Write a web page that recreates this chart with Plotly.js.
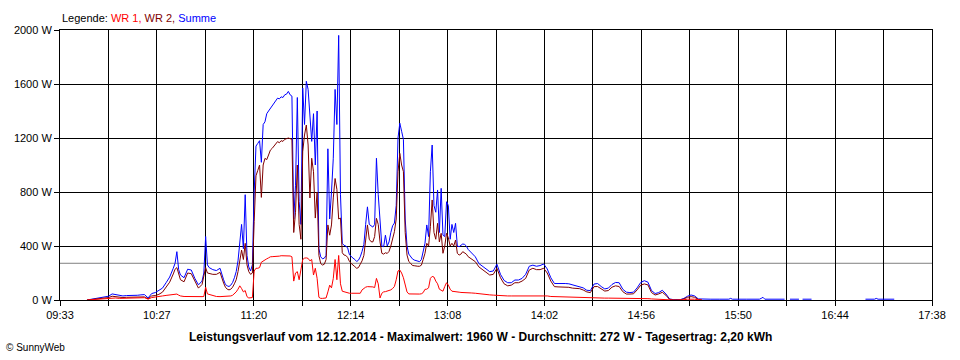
<!DOCTYPE html>
<html>
<head>
<meta charset="utf-8">
<script src="https://cdn.plot.ly/plotly-3.0.1.min.js"></script>
<style>html,body{margin:0;padding:0;background:#fff;}#chart{width:960px;height:360px;}</style>
</head>
<body>
<div id="chart"></div>
<script>
// ---- data ----
const day = '2014-12-12';
const times = [
'09:48','09:50','09:52','09:54','09:56','09:58','10:00','10:02','10:04','10:06','10:08','10:10','10:12','10:14','10:16','10:18','10:20','10:22','10:24','10:26','10:28','10:30','10:32','10:34','10:36','10:37','10:38','10:39','10:40','10:42','10:44','10:46','10:48','10:50','10:52','10:53','10:54','10:55','10:56','10:58','11:00','11:02','11:04',
'11:05','11:06','11:07','11:08','11:09','11:10','11:11','11:12','11:13','11:14','11:15','11:16','11:17','11:18','11:19','11:20','11:21','11:22','11:23','11:24','11:25','11:26','11:27','11:28','11:29','11:30','11:31','11:32','11:33','11:34','11:35','11:36','11:37','11:38','11:39','11:40','11:41','11:42','11:43','11:44','11:45','11:46','11:47','11:48','11:49','11:50','11:51','11:52','11:53','11:54','11:55','11:56','11:57','11:58','11:59','12:00','12:01','12:02','12:03','12:04','12:05','12:06','12:07','12:08','12:09','12:10','12:11','12:12','12:13','12:14','12:15','12:16','12:17','12:18','12:19','12:20','12:21','12:22','12:23','12:24','12:25','12:26','12:27','12:28','12:29','12:30','12:31','12:32','12:33','12:34','12:35','12:36','12:37','12:38','12:39','12:40','12:41','12:42','12:43','12:44','12:45','12:46','12:47','12:48','12:49','12:50','12:51','12:52','12:53','12:54','12:55','12:56','12:57','12:58','12:59','13:00','13:01','13:02','13:03','13:04','13:05','13:06','13:07','13:08','13:09','13:10','13:11','13:12','13:13','13:14','13:15','13:16','13:17','13:18','13:19','13:20',
'13:22','13:24','13:26','13:28','13:30','13:32','13:34','13:36','13:38','13:40','13:42','13:44','13:46','13:48','13:50','13:52','13:54','13:56','13:58','14:00','14:02','14:04','14:06','14:08','14:10','14:12','14:14','14:16','14:18','14:20','14:22','14:24','14:26','14:28','14:30','14:32','14:34','14:36','14:38','14:40','14:42','14:44','14:46','14:48','14:50','14:52','14:54','14:56','14:58','15:00','15:02','15:04','15:06','15:08','15:10','15:12','15:14','15:16','15:18','15:20','15:22','15:24','15:26','15:28','15:30',
'15:35','15:40','15:45','15:46','15:47','15:55','16:02','16:03','16:04','16:05','16:10','16:16','16:17','16:19','16:24','16:25','16:26','16:31','16:32','17:01','17:06','17:07','17:08','17:17'
];
const summe = [
0,5,8,12,18,22,28,45,40,32,30,33,32,34,35,38,40,15,48,55,70,88,128,170,235,272,358,225,185,165,228,222,160,112,140,200,470,260,240,225,218,235,150,
115,105,100,110,130,165,210,290,420,560,380,780,330,245,215,260,800,1140,1160,1180,1020,1300,1320,1380,1400,1420,1440,1455,1475,1495,1490,1505,1500,1520,1525,1545,1520,1510,600,850,1500,730,560,1570,1300,1620,1560,1330,1175,1380,1000,1400,380,320,305,310,330,1120,600,800,1050,1560,1300,1960,780,420,405,400,385,335,320,310,300,285,295,320,360,410,560,690,560,550,540,560,1050,780,560,400,395,480,400,430,500,550,570,700,1200,1310,1250,1190,600,400,340,321,305,296,290,285,284,300,360,420,556,470,950,1148,700,650,815,500,827,480,470,728,700,450,560,500,568,400,395,405,415,412,400,375,
345,320,270,250,230,210,215,265,190,145,128,128,148,148,160,190,250,258,250,255,267,230,165,122,122,124,122,120,112,105,100,90,72,70,118,122,100,82,88,115,130,128,80,58,55,58,90,130,143,132,70,48,55,72,45,8,3,3,3,12,28,37,30,8,6,
6,6,6,12,6,6,6,12,20,6,6,6,null,6,6,null,6,6,null,6,6,12,6,6
];
const wr1 = [
0,2,3,4,6,8,10,14,15,12,12,13,12,14,15,16,17,6,18,22,28,30,34,38,42,44,44,36,30,26,25,25,24,24,25,26,95,45,40,30,26,25,25,
26,28,28,30,35,45,60,80,105,85,60,70,25,15,15,18,215,235,235,240,280,290,296,305,312,320,321,321,322,324,325,328,328,328,328,328,326,320,140,200,210,150,230,300,310,312,308,290,300,185,235,160,20,12,12,12,15,60,110,90,160,300,150,330,120,65,60,55,50,50,50,50,50,48,48,50,75,88,95,99,99,99,97,92,160,120,15,50,60,62,65,68,75,85,100,150,215,222,200,165,120,60,45,44,44,44,44,44,44,46,55,79,80,90,160,175,170,140,120,80,75,65,100,128,110,80,65,62,60,60,58,56,56,55,54,54,
52,50,46,44,42,38,36,34,30,30,30,30,30,30,30,32,33,33,33,32,32,30,26,25,24,22,22,20,18,18,17,16,15,15,15,15,14,14,14,14,14,13,12,12,12,12,12,12,11,10,8,6,6,6,5,2,0,0,0,2,6,8,6,2,0,
null,null,null,null,null,null,null,null,null,null,null,null,null,null,null,null,null,null,null,null,null,null,null,null
];
const wr2 = [
0,3,5,8,12,14,18,28,25,20,18,20,20,20,20,22,23,9,30,33,42,58,94,132,193,228,240,189,150,135,200,195,136,88,115,170,240,200,195,190,190,205,125,
95,80,75,80,95,120,150,210,310,370,300,420,260,210,190,200,580,920,960,1000,760,1000,1049,1040,1074,1110,1123,1140,1150,1173,1165,1180,1175,1190,1195,1200,1195,1190,500,650,1000,560,450,1100,1222,1296,1148,756,1050,950,607,800,330,270,259,265,300,556,480,556,756,900,820,600,607,350,333,330,315,285,270,255,247,235,240,265,290,330,450,556,450,432,430,470,605,560,430,346,340,350,345,360,400,450,506,600,950,1086,1000,951,500,333,285,272,256,254,250,250,250,258,300,346,420,400,543,741,500,450,568,430,494,346,400,494,460,400,420,400,444,346,333,340,358,350,340,321,
300,284,245,225,205,185,190,235,165,120,105,110,128,128,140,160,222,235,225,225,235,200,140,99,97,97,96,94,88,86,84,74,60,55,99,100,85,66,70,95,105,100,62,44,44,46,75,110,119,112,55,37,45,57,35,5,0,0,0,8,20,25,20,5,0,
null,null,null,null,null,null,null,null,null,null,null,null,null,null,null,null,null,null,null,null,null,null,null,null
];
const avgPower = 272;
const yTickVals = [0, 400, 800, 1200, 1600, 2000];
const yTickLabels = ['0 W', '400 W', '800 W', '1200 W', '1600 W', '2000 W'];
const xTickLabels = ['09:33','10:27','11:20','12:14','13:08','14:02','14:56','15:50','16:44','17:38'];
const xStart = '09:33', xEnd = '17:38';
const titleText = 'Leistungsverlauf vom 12.12.2014 - Maximalwert: 1960 W - Durchschnitt: 272 W - Tagesertrag: 2,20 kWh';

// ---- build ----
const x = times.map(t => day + ' ' + t + ':00');
const toMs = t => Date.parse(day + 'T' + t + ':00Z');
const t0 = toMs(xStart), t1 = toMs(xEnd);
const nInt = (xTickLabels.length - 1) * 2;
const tickvals = [], ticktext = [];
for (let i = 0; i <= nInt; i++) {
  tickvals.push(t0 + (t1 - t0) * i / nInt);
  ticktext.push(i % 2 === 0 ? xTickLabels[i / 2] : '');
}
const FONT = 'Liberation Sans, Arial, sans-serif';

const traces = [
  {x: x, y: summe, name: 'Summe', type: 'scatter', mode: 'lines', line: {color: '#0000ff', width: 1}, connectgaps: false},
  {x: x, y: wr2, name: 'WR 2', type: 'scatter', mode: 'lines', line: {color: '#800000', width: 1}, connectgaps: false},
  {x: x, y: wr1, name: 'WR 1', type: 'scatter', mode: 'lines', line: {color: '#ff0000', width: 1}, connectgaps: false}
];

const layout = {
  width: 960, height: 360,
  margin: {l: 60, r: 28, t: 30, b: 60},
  paper_bgcolor: '#ffffff', plot_bgcolor: '#ffffff',
  showlegend: false,
  hovermode: false,
  font: {family: FONT, size: 11, color: '#000'},
  xaxis: {
    type: 'date', range: [t0, t1],
    tickmode: 'array', tickvals: tickvals, ticktext: ticktext,
    showgrid: true, gridcolor: '#000', gridwidth: 1,
    ticks: 'outside', ticklen: 5, tickcolor: '#000', tickwidth: 1,
    showline: true, linecolor: '#000', linewidth: 1, mirror: true,
    zeroline: false, tickfont: {family: FONT, size: 11, color: '#000'}
  },
  yaxis: {
    range: [0, 2000], tickmode: 'array', tickvals: yTickVals, ticktext: yTickLabels,
    showgrid: true, gridcolor: '#000', gridwidth: 1,
    ticks: 'outside', ticklen: 5, tickcolor: '#000', tickwidth: 1,
    showline: true, linecolor: '#000', linewidth: 1, mirror: true,
    zeroline: false, tickfont: {family: FONT, size: 11, color: '#000'}
  },
  shapes: [
    {type: 'line', xref: 'paper', x0: 0, x1: 1, yref: 'y', y0: avgPower, y1: avgPower,
     line: {color: '#808080', width: 1}, layer: 'below'}
  ],
  annotations: [
    {xref: 'paper', yref: 'paper', x: 0, y: 1, xanchor: 'left', yanchor: 'bottom', yshift: 4, showarrow: false,
     text: 'Legende: <span style="color:#ff0000">WR 1,</span> <span style="color:#800000">WR 2,</span> <span style="color:#0000ff">Summe</span>',
     font: {family: FONT, size: 11, color: '#000'}},
    {xref: 'paper', yref: 'paper', x: (480 - 60) / 872, y: -(337 - 300) / 270, xanchor: 'center', yanchor: 'middle', showarrow: false,
     text: '<b>' + titleText + '</b>', font: {family: FONT, size: 12, color: '#000'}},
    {xref: 'paper', yref: 'paper', x: (4 - 60) / 872, y: -(347 - 300) / 270, xanchor: 'left', yanchor: 'middle', showarrow: false,
     text: '© SunnyWeb', font: {family: FONT, size: 10, color: '#000'}}
  ]
};

Plotly.newPlot('chart', traces, layout, {displayModeBar: false, staticPlot: true});
</script>
</body>
</html>
